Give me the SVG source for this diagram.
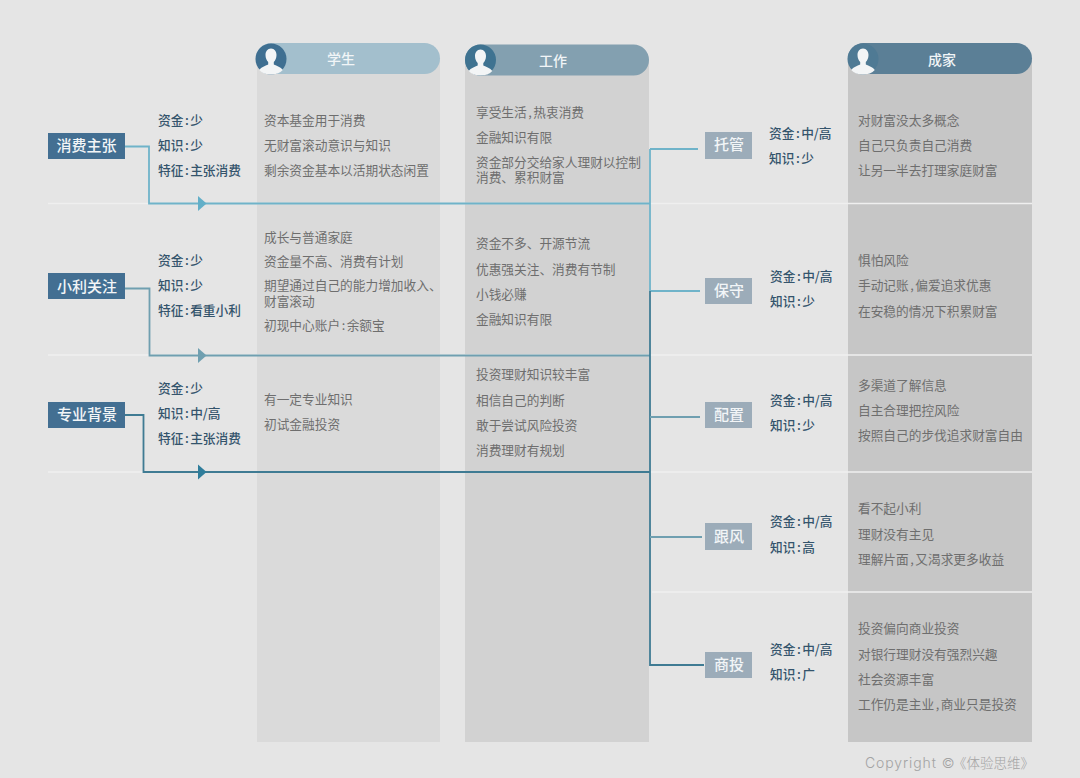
<svg xmlns="http://www.w3.org/2000/svg" width="1080" height="778" viewBox="0 0 1080 778">
<style>
text{font-family:"Noto Sans CJK SC","Liberation Sans",sans-serif}
.d{font-size:12.7px;fill:#6e6e6e}
.m{font-size:12.7px;fill:#34546c;font-weight:500}
.h{font-size:14px;fill:#f1f5f7;text-anchor:middle;font-weight:500}
.n{font-size:15px;fill:#f2f5f7;text-anchor:middle;font-weight:500}
.sep{stroke:#efefef;stroke-width:1.6;fill:none}
.l{fill:none;stroke-width:1.8}
.a{stroke:#6fb3c9}.b{stroke:#6f9fb0}.c{stroke:#3f7b93}
.rn{fill:#9cacb9}
.ln{fill:#436f92}
</style>
<defs>
<g id="person"><path d="M0-10.500c-3.500 0-5.500 3-5.500 6.500 0 3 1.200 5.500 2.700 7v2.500c-3 1.500-7 2.500-9 5.500 2.500 3 7 4.500 11.800 4.500s9.300-1.500 11.800-4.500c-2-3-6-4-9-5.500v-2.500c1.500-1.500 2.700-4 2.700-7 0-3.500-2-6.500-5.500-6.500z" fill="#f3f5f6"/></g>
<polygon id="tri" points="-4,-7.500 4.500,0 -4,7.500"/>
</defs>
<rect width="1080" height="778" fill="#e5e5e5"/>
<g id="columns">
<rect x="257" y="60" width="183" height="682" fill="#dadada"/>
<rect x="465" y="60" width="184" height="682" fill="#d2d2d2"/>
<rect x="848" y="60" width="184" height="682" fill="#c6c6c6"/>
</g>
<g id="separators">
<path class="sep" d="M48 203.500H1032M48 355H1032M48 472H1032M652 592H1032"/>
</g>
<g id="connectors">
<path class="l a" d="M125 146.500H149V203.500H650M650 149V291M650 149H698M650 291H700"/>
<path class="l b" d="M125 288.500H149.500V355.500H650"/>
<path class="l c" d="M125 415H143.500V472H650M650 291V665H704"/>
<path class="l b" d="M650 417H700M650 537H702"/>
<use href="#tri" x="202" y="203.500" fill="#62afc8"/>
<use href="#tri" x="202" y="355.500" fill="#6f9fb0"/>
<use href="#tri" x="202" y="472" fill="#2f7d9b"/>
</g>
<g id="header-student">
<rect x="256" y="43" width="184" height="31" rx="15.500" fill="#a3bfcd"/>
<circle cx="271" cy="59" r="15.500" fill="#3f6f91"/><use href="#person" x="271" y="59"/>
<text class="h" x="341" y="64">学生</text>
</g>
<g id="header-work">
<rect x="465" y="44.500" width="184" height="31" rx="15.500" fill="#83a0b0"/>
<circle cx="480.500" cy="60" r="15.500" fill="#3f7391"/><use href="#person" x="480.500" y="60"/>
<text class="h" x="553" y="66">工作</text>
</g>
<g id="header-family">
<rect x="848" y="43" width="184" height="31" rx="15.500" fill="#5b7f96"/>
<circle cx="863" cy="59" r="15.500" fill="#4f7a94"/><use href="#person" x="863" y="59"/>
<text class="h" x="942" y="65">成家</text>
</g>
<g id="node-xiaofei"><rect class="ln" x="48" y="133" width="77" height="26"/><text class="n" x="86.500" y="151">消费主张</text></g>
<g id="node-xiaoli"><rect class="ln" x="48" y="273" width="77" height="26"/><text class="n" x="87" y="292">小利关注</text></g>
<g id="node-zhuanye"><rect class="ln" x="48" y="402" width="77" height="26"/><text class="n" x="87" y="420">专业背景</text></g>
<g id="node-tuoguan"><rect class="rn" x="705" y="132" width="47" height="27"/><text class="n" x="729" y="150">托管</text></g>
<g id="node-baoshou"><rect class="rn" x="705" y="278" width="47" height="26"/><text class="n" x="729" y="296">保守</text></g>
<g id="node-peizhi"><rect class="rn" x="705" y="402" width="47" height="26"/><text class="n" x="729" y="420">配置</text></g>
<g id="node-genfeng"><rect class="rn" x="705" y="523" width="47" height="27"/><text class="n" x="729" y="541.500">跟风</text></g>
<g id="node-shangtou"><rect class="rn" x="705" y="652" width="47" height="26"/><text class="n" x="729" y="670">商投</text></g>
<g id="left-meta">
<text class="m" x="158" y="124.500">资金<tspan dx="1.500">:</tspan><tspan dx="1.500">少</tspan></text><text class="m" x="158" y="149.500">知识<tspan dx="1.500">:</tspan><tspan dx="1.500">少</tspan></text><text class="m" x="158" y="175">特征<tspan dx="1.500">:</tspan><tspan dx="1.500">主张消费</tspan></text>
<text class="m" x="158" y="264.500">资金<tspan dx="1.500">:</tspan><tspan dx="1.500">少</tspan></text><text class="m" x="158" y="289.500">知识<tspan dx="1.500">:</tspan><tspan dx="1.500">少</tspan></text><text class="m" x="158" y="315">特征<tspan dx="1.500">:</tspan><tspan dx="1.500">看重小利</tspan></text>
<text class="m" x="158" y="392.500">资金<tspan dx="1.500">:</tspan><tspan dx="1.500">少</tspan></text><text class="m" x="158" y="417.500">知识<tspan dx="1.500">:</tspan><tspan dx="1.500">中/高</tspan></text><text class="m" x="158" y="443">特征<tspan dx="1.500">:</tspan><tspan dx="1.500">主张消费</tspan></text>
</g>
<g id="right-meta">
<text class="m" x="769" y="138">资金<tspan dx="1.500">:</tspan><tspan dx="1.500">中/高</tspan></text><text class="m" x="769" y="163">知识<tspan dx="1.500">:</tspan><tspan dx="1.500">少</tspan></text>
<text class="m" x="770" y="281">资金<tspan dx="1.500">:</tspan><tspan dx="1.500">中/高</tspan></text><text class="m" x="770" y="306">知识<tspan dx="1.500">:</tspan><tspan dx="1.500">少</tspan></text>
<text class="m" x="770" y="405">资金<tspan dx="1.500">:</tspan><tspan dx="1.500">中/高</tspan></text><text class="m" x="770" y="430">知识<tspan dx="1.500">:</tspan><tspan dx="1.500">少</tspan></text>
<text class="m" x="770" y="526">资金<tspan dx="1.500">:</tspan><tspan dx="1.500">中/高</tspan></text><text class="m" x="770" y="551.500">知识<tspan dx="1.500">:</tspan><tspan dx="1.500">高</tspan></text>
<text class="m" x="770" y="653.500">资金<tspan dx="1.500">:</tspan><tspan dx="1.500">中/高</tspan></text><text class="m" x="770" y="679">知识<tspan dx="1.500">:</tspan><tspan dx="1.500">广</tspan></text>
</g>
<g id="student-text">
<text class="d" x="264" y="124.500">资本基金用于消费</text><text class="d" x="264" y="149.500">无财富滚动意识与知识</text><text class="d" x="264" y="175">剩余资金基本以活期状态闲置</text>
<text class="d" x="264" y="242">成长与普通家庭</text><text class="d" x="264" y="266">资金量不高、消费有计划</text><text class="d" x="264" y="290">期望通过自己的能力增加收入、<tspan x="264" dy="16">财富滚动</tspan></text><text class="d" x="264" y="330">初现中心账户<tspan dx="1.500">:</tspan><tspan dx="1.500">余额宝</tspan></text>
<text class="d" x="264" y="404">有一定专业知识</text><text class="d" x="264" y="429">初试金融投资</text>
</g>
<g id="work-text">
<text class="d" x="476" y="117">享受生活<tspan dx="1.500">,</tspan><tspan dx="1.500">热衷消费</tspan></text><text class="d" x="476" y="142">金融知识有限</text><text class="d" x="476" y="167">资金部分交给家人理财以控制<tspan x="476" dy="15">消费、累积财富</tspan></text>
<text class="d" x="476" y="248">资金不多、开源节流</text><text class="d" x="476" y="273.500">优惠强关注、消费有节制</text><text class="d" x="476" y="299">小钱必赚</text><text class="d" x="476" y="324">金融知识有限</text>
<text class="d" x="476" y="379">投资理财知识较丰富</text><text class="d" x="476" y="404.500">相信自己的判断</text><text class="d" x="476" y="430">敢于尝试风险投资</text><text class="d" x="476" y="455">消费理财有规划</text>
</g>
<g id="family-text">
<text class="d" x="858" y="124.500">对财富没太多概念</text><text class="d" x="858" y="149.500">自己只负责自己消费</text><text class="d" x="858" y="175">让另一半去打理家庭财富</text>
<text class="d" x="858" y="265">惧怕风险</text><text class="d" x="858" y="290">手动记账<tspan dx="1.500">,</tspan><tspan dx="1.500">偏爱追求优惠</tspan></text><text class="d" x="858" y="315.500">在安稳的情况下积累财富</text>
<text class="d" x="858" y="390">多渠道了解信息</text><text class="d" x="858" y="415">自主合理把控风险</text><text class="d" x="858" y="440">按照自己的步伐追求财富自由</text>
<text class="d" x="858" y="513">看不起小利</text><text class="d" x="858" y="539">理财没有主见</text><text class="d" x="858" y="564">理解片面<tspan dx="1.500">,</tspan><tspan dx="1.500">又渴求更多收益</tspan></text>
<text class="d" x="858" y="633">投资偏向商业投资</text><text class="d" x="858" y="659">对银行理财没有强烈兴趣</text><text class="d" x="858" y="684">社会资源丰富</text><text class="d" x="858" y="709">工作仍是主业<tspan dx="1.500">,</tspan><tspan dx="1.500">商业只是投资</tspan></text>
</g>
<text id="copyright" x="865" y="768" style="font-family:Inter,'Noto Sans CJK SC',sans-serif;font-size:14px;font-weight:300;fill:#a3a3a3"><tspan letter-spacing="0.900">Copyright ©</tspan><tspan x="953" font-size="13.500">《体验思维》</tspan></text>
</svg>
